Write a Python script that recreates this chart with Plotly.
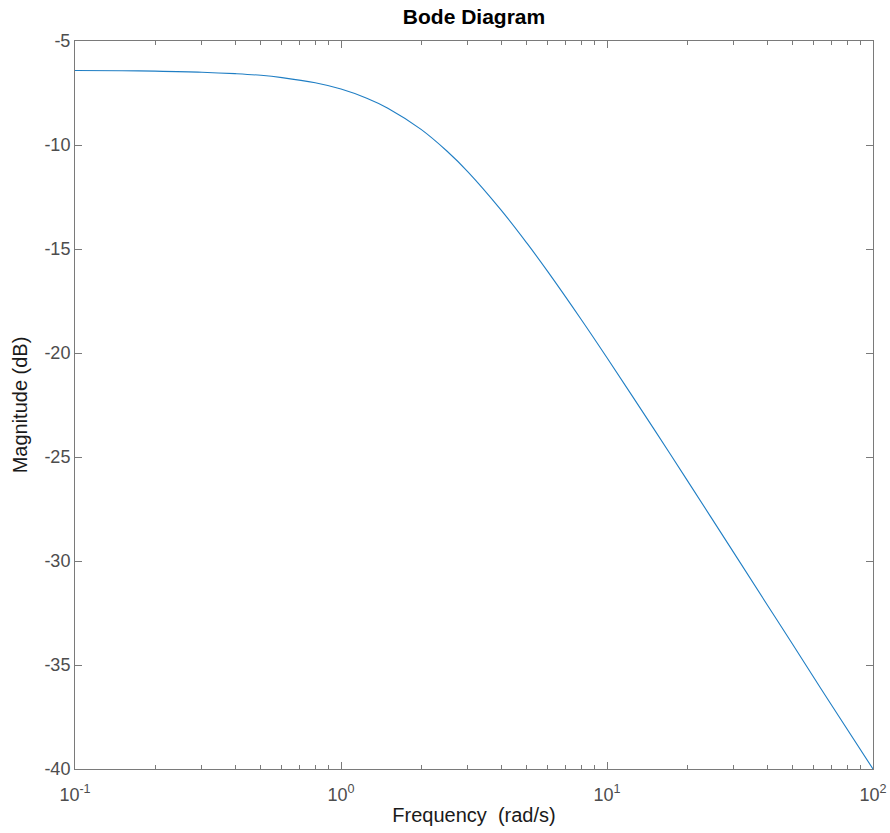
import plotly.graph_objects as go

# Frequencies (rad/s) and magnitudes (dB)
freq = [0.1, 0.15, 0.2, 0.3, 0.4, 0.5, 0.6, 0.8, 1.0, 1.25, 1.5, 2.0, 2.5, 3.0,
        4.0, 5.0, 6.0, 8.0, 10.0, 15.0, 20.0, 30.0, 40.0, 50.0, 70.0, 100.0]
mag_db = [-6.42, -6.43, -6.45, -6.50, -6.57, -6.65, -6.76, -7.01, -7.31, -7.75,
          -8.23, -9.25, -10.29, -11.29, -13.13, -14.72, -16.10, -18.39, -20.23,
          -23.65, -26.11, -29.61, -32.10, -34.03, -36.95, -40.0]

x_major = [0.1, 1, 10, 100]
x_major_text = ["10<sup>-1</sup>", "10<sup>0</sup>", "10<sup>1</sup>", "10<sup>2</sup>"]
x_minor = [m * d for d in (0.1, 1, 10) for m in range(2, 10)]
y_ticks = [-40, -35, -30, -25, -20, -15, -10, -5]
y_tick_text = ["-40", "-35", "-30", "-25", "-20", "-15", "-10", "-5"]

FONT = "Liberation Sans, Arial, Helvetica, sans-serif"

fig = go.Figure()
fig.add_trace(go.Scatter(x=freq, y=mag_db, mode="lines",
                         line=dict(color="#1f7ec4", width=1.1, shape="spline"),
                         showlegend=False, hoverinfo="x+y"))

axis_col = "#7a7a7a"
tick_font = dict(family=FONT, size=18, color="#4d4d4d")

fig.update_layout(
    width=890, height=833,
    margin=dict(l=75, r=17, t=41, b=64),
    paper_bgcolor="white", plot_bgcolor="white",
    title=dict(text="<b>Bode Diagram</b>", x=474 / 890, xanchor="center", y=1 - 17 / 833, yanchor="middle",
               font=dict(family=FONT, size=21, color="black")),
    xaxis=dict(type="log", range=[-1, 2], tickmode="array", tickvals=x_major, ticktext=x_major_text,
               ticks="inside", ticklen=7, tickcolor=axis_col, showgrid=False, zeroline=False,
               showline=True, linecolor=axis_col, linewidth=1, mirror="ticks",
               tickfont=tick_font, automargin=False, ticklabelstandoff=9,
               minor=dict(tickmode="array", tickvals=x_minor, ticks="inside", ticklen=4,
                          tickcolor=axis_col, showgrid=False),
               title=dict(text="Frequency  (rad/s)", standoff=4,
                          font=dict(family=FONT, size=20, color="#1a1a1a"))),
    yaxis=dict(range=[-40, -5], tickmode="array", tickvals=y_ticks, ticktext=y_tick_text,
               ticks="inside", ticklen=7, tickcolor=axis_col, showgrid=False, zeroline=False,
               showline=True, linecolor=axis_col, linewidth=1, mirror="ticks",
               tickfont=tick_font, automargin=False,
               title=dict(text="Magnitude (dB)", standoff=11,
                          font=dict(family=FONT, size=20, color="#1a1a1a"))),
)

fig.write_html("out.html")
